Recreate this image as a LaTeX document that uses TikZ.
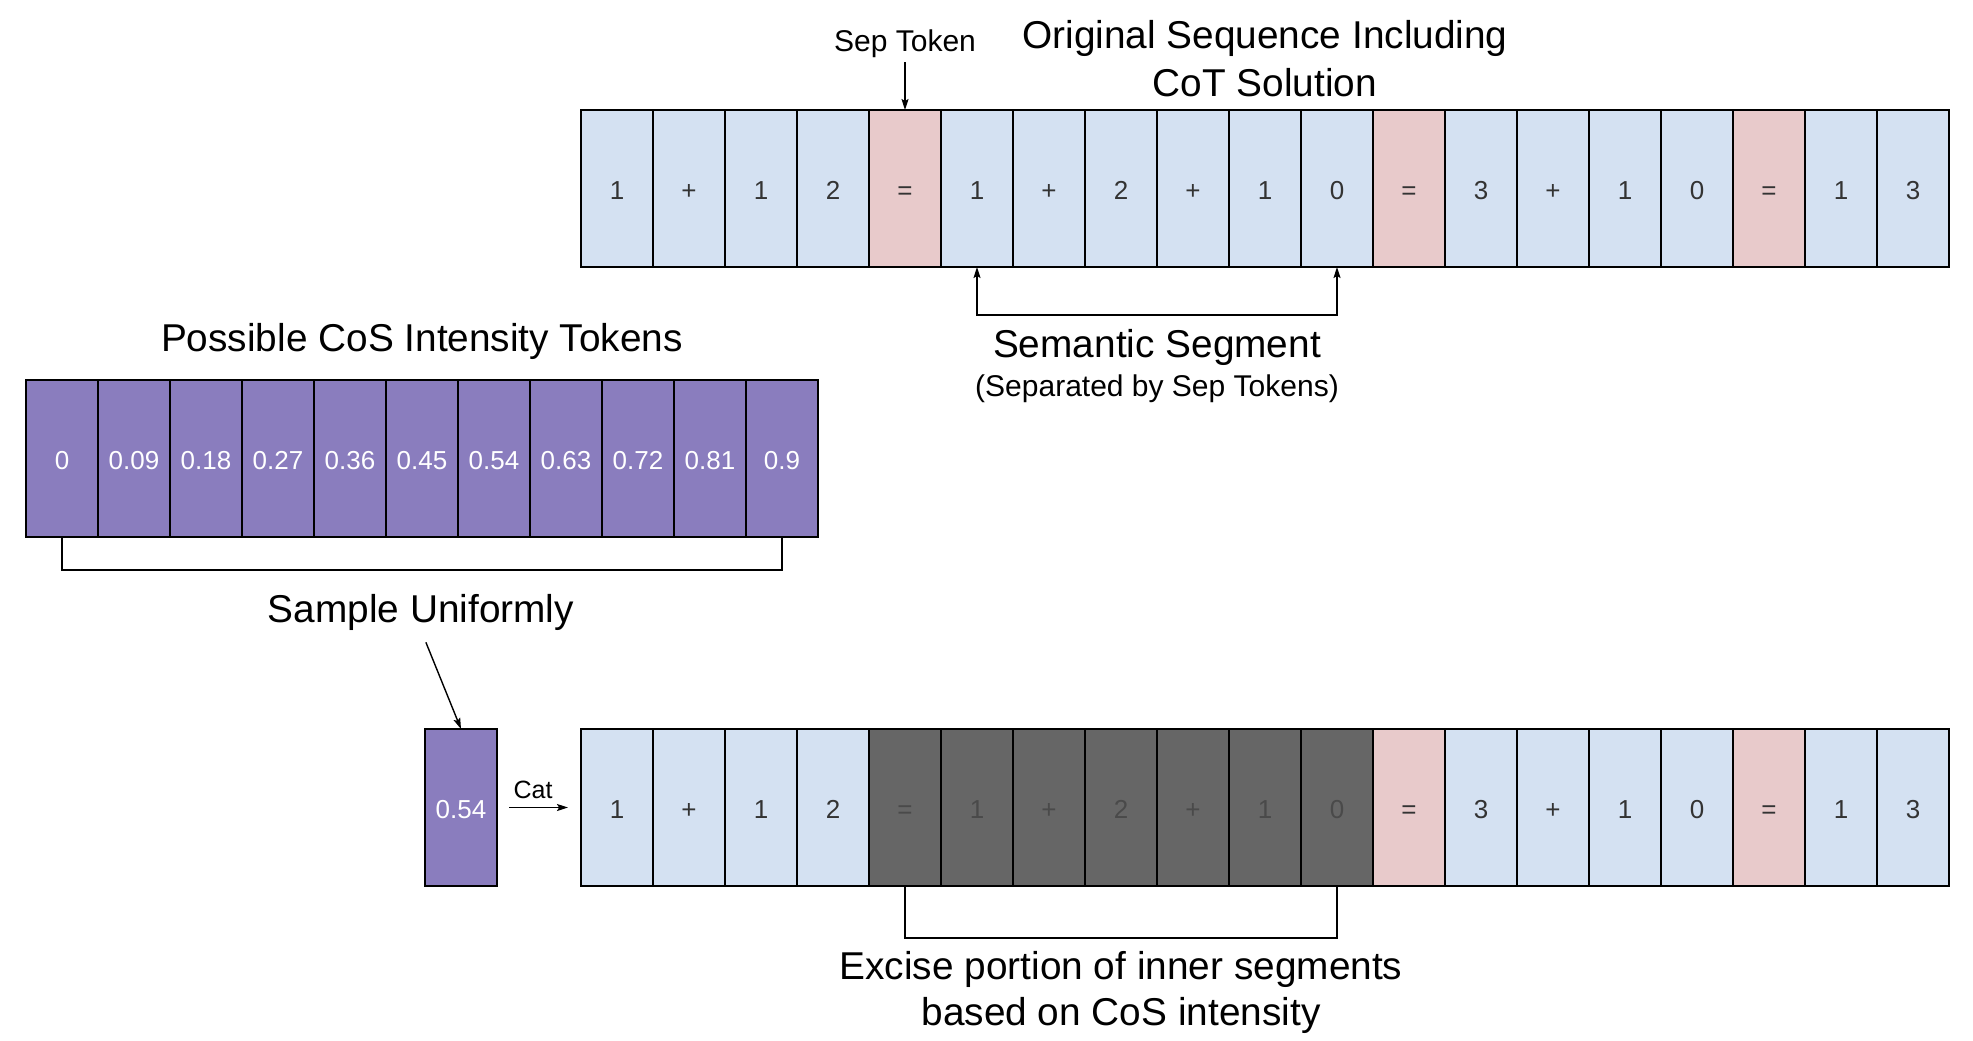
\documentclass[tikz,border=0pt]{standalone}
\usepackage{fontspec}
\setmainfont{Liberation Sans}
\usetikzlibrary{arrows.meta,calc}
\definecolor{cb}{HTML}{D4E1F2}
\definecolor{cp}{HTML}{E8CACB}
\definecolor{cd}{HTML}{666666}
\definecolor{cv}{HTML}{8A7DBE}
\definecolor{tg}{HTML}{333333}
\definecolor{tdk}{HTML}{4A4A4A}
\begin{document}
\begin{tikzpicture}[x=1pt,y=-1pt,
  cell/.style={draw=black,line width=1.5pt,minimum width=72pt,minimum height=157pt,
    inner sep=0pt,outer sep=0pt,text height=21.2pt,text depth=0pt,font=\fontsize{26}{30}\selectfont},
  vcell/.style={cell,fill=cv,text=white},
  big/.style={font=\fontsize{38.8}{48}\selectfont,inner sep=0pt},
  mid/.style={font=\fontsize{30}{36}\selectfont,inner sep=0pt},
  small/.style={font=\fontsize{25}{30}\selectfont,inner sep=0pt},
  conn/.style={line width=1.4pt,draw=black},
  tip/.style={-{Stealth[length=11pt,width=7pt,inset=2pt]}}
]
\useasboundingbox (0,0) rectangle (1973,1041);

% top sequence
\foreach \t/\c/\tc [count=\i] in {1/cb/tg,+/cb/tg,1/cb/tg,2/cb/tg,=/cp/tg,1/cb/tg,+/cb/tg,2/cb/tg,+/cb/tg,1/cb/tg,0/cb/tg,=/cp/tg,3/cb/tg,+/cb/tg,1/cb/tg,0/cb/tg,=/cp/tg,1/cb/tg,3/cb/tg}
  \node[cell,fill=\c,text=\tc] (t\i) at ({581+72*(\i-0.5)},188.5) {\t};

% bottom sequence
\foreach \t/\c/\tc [count=\i] in {1/cb/tg,+/cb/tg,1/cb/tg,2/cb/tg,=/cd/tdk,1/cd/tdk,+/cd/tdk,2/cd/tdk,+/cd/tdk,1/cd/tdk,0/cd/tdk,=/cp/tg,3/cb/tg,+/cb/tg,1/cb/tg,0/cb/tg,=/cp/tg,1/cb/tg,3/cb/tg}
  \node[cell,fill=\c,text=\tc] (b\i) at ({581+72*(\i-0.5)},807.5) {\t};

% intensity tokens
\foreach \t [count=\i] in {0,0.09,0.18,0.27,0.36,0.45,0.54,0.63,0.72,0.81,0.9}
  \node[vcell] (p\i) at ({26+72*(\i-0.5)},458.5) {\t};

% sampled token
\node[vcell] (s) at (461,807.5) {0.54};

% labels
\node[mid,anchor=base] (seplab) at (905,52) {Sep Token};
\node[big,align=center] (title) at (1265,59) {Original Sequence Including\\CoT Solution};
\node[big,anchor=base] (poss) at (422,351) {Possible CoS Intensity Tokens};
\node[big,anchor=base] (sem) at (1157,357) {Semantic Segment};
\node[mid,anchor=base] (semsub) at (1157,396) {(Separated by Sep Tokens)};
\node[big,anchor=base] (sample) at (421,622) {Sample Uniformly};
\node[small,anchor=base] (cat) at (533,798) {Cat};
\node[font=\fontsize{38.8}{46}\selectfont,inner sep=0pt,align=center] (excise) at (1121,992) {Excise portion of inner segments\\based on CoS intensity};

% coordinates for brackets
\coordinate (semy) at (0,315);
\coordinate (py) at (0,570);
\coordinate (ey) at (0,938);

% connectors
\draw[conn,tip] (seplab.south) ++(0,4) -- (t5.north);
\draw[conn,{Stealth[length=11pt,width=7pt,inset=2pt]}-{Stealth[length=11pt,width=7pt,inset=2pt]}]
  (t6.south) |- (semy -| t11.south) -- (t11.south);
\draw[conn] (p1.south) |- (py -| p11.south) -- (p11.south);
\draw[conn,tip,shorten <=13pt] (sample.south) -- (s.north);
\draw[conn,tip,shorten <=12pt,shorten >=13pt] (s.east) -- (b1.west);
\draw[conn] (b5.south) |- (ey -| b11.south) -- (b11.south);
\end{tikzpicture}
\end{document}
